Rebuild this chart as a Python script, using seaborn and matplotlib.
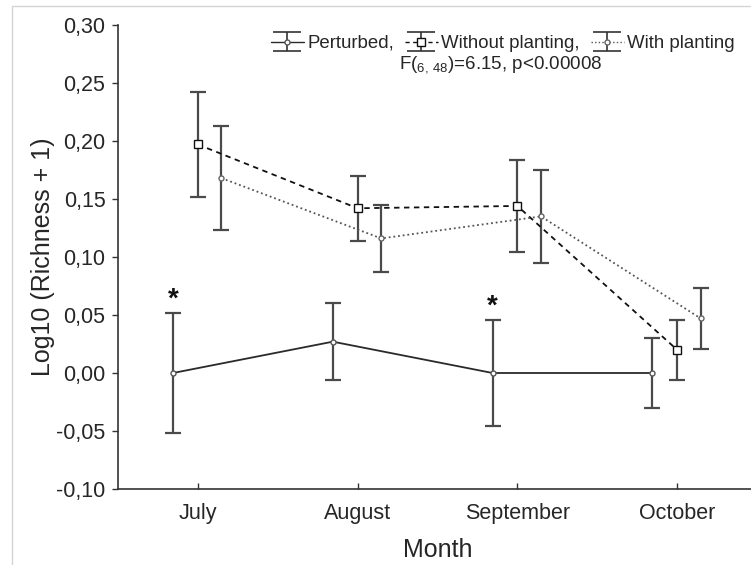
import matplotlib
matplotlib.use("Agg")
import matplotlib.pyplot as plt
import seaborn as sns
import numpy as np
import pandas as pd
from matplotlib.lines import Line2D
from matplotlib.legend_handler import HandlerTuple

months = ["July", "August", "September", "October"]
perturbed = [0.000, 0.027, 0.000, 0.000]
perturbed_err = [0.052, 0.033, 0.046, 0.030]
without_planting = [0.197, 0.142, 0.144, 0.020]
without_err = [0.045, 0.028, 0.040, 0.026]
with_planting = [0.168, 0.116, 0.135, 0.047]
with_err = [0.045, 0.029, 0.040, 0.026]
y_ticks = [-0.10, -0.05, 0.00, 0.05, 0.10, 0.15, 0.20, 0.25, 0.30]
star_months = ["July", "September"]

sns.set_theme(style="ticks")
plt.rcParams["font.family"] = ["Liberation Sans", "DejaVu Sans"]
plt.rcParams["mathtext.fontset"] = "custom"
plt.rcParams["mathtext.rm"] = "Liberation Sans"
plt.rcParams["mathtext.default"] = "regular"

fig = plt.figure(figsize=(7.51, 5.65), dpi=100)
ax = fig.add_axes([0.157, 0.1345, 0.851, 0.8213])

series = [
    ("Perturbed,", perturbed, perturbed_err, -0.155, "-", "o", "#2a2a2a", 3.6, "#555555"),
    ("Without planting,", without_planting, without_err, 0.0, (0, (3, 2.5)), "s", "#111111", 6.0, "#111111"),
    ("With planting", with_planting, with_err, 0.148, (0, (1, 1.6)), "o", "#555555", 3.6, "#666666"),
]

base = np.arange(len(months))
handles = []
labels = []
for name, vals, errs, off, ls, mk, col, ms, mec in series:
    xs = base + off
    df = pd.DataFrame({"x": xs, "y": vals})
    sns.lineplot(data=df, x="x", y="y", ax=ax, color=col, linestyle=ls, linewidth=1.3,
                 marker=mk, markersize=ms, markerfacecolor="white", markeredgecolor=mec,
                 markeredgewidth=1.0, legend=False, zorder=3)
    ax.errorbar(xs, vals, yerr=errs, fmt="none", ecolor="#4a4a4a", elinewidth=1.6,
                capsize=5.8, capthick=1.6, zorder=2)
    # legend proxies (nothing drawn on the axes)
    proxy_err = ax.errorbar([np.nan], [np.nan], yerr=[np.nan], fmt="none", ecolor="#333333",
                            elinewidth=1.2, capsize=10, capthick=1.2)
    proxy = Line2D([], [], color=col, linestyle=ls, linewidth=1.0, marker=mk,
                   markersize=ms, markerfacecolor="white", markeredgecolor=mec, markeredgewidth=1.0)
    handles.append((proxy_err, proxy))
    labels.append(name)

# significance asterisks
for m in star_months:
    i = months.index(m)
    top = perturbed[i] + perturbed_err[i]
    ax.text(i + series[0][3], top, "*", ha="center", va="bottom",
            fontsize=20, fontweight="bold", color="#111111")

ax.set_xlim(-0.5, 3.5)
ax.set_ylim(-0.10, 0.30)
ax.set_xticks(base)
ax.set_xticklabels(months)
ax.set_yticks(y_ticks)
ax.set_yticklabels([f"{v:.2f}".replace(".", ",") for v in y_ticks])
ax.tick_params(axis="y", direction="out", length=4, width=1, labelsize=15.5, color="#333333", pad=5)
ax.tick_params(axis="x", direction="in", length=4, width=1, labelsize=15.5, color="#333333", pad=10)
ax.set_xlabel("Month", fontsize=18, labelpad=10)
ax.set_ylabel("Log10 (Richness + 1)", fontsize=18, labelpad=1)
sns.despine(ax=ax)
for s in ["left", "bottom"]:
    ax.spines[s].set_color("#333333")
    ax.spines[s].set_linewidth(1.2)

leg = ax.legend(handles, labels, ncol=3, loc="upper center",
                bbox_to_anchor=(503 / 751, 1 - 35 / 565), bbox_transform=fig.transFigure,
                frameon=False, fontsize=13.4, handlelength=1.75, handletextpad=0.2,
                columnspacing=0.6, borderaxespad=0, borderpad=0, handleheight=0.6,
                handler_map={tuple: HandlerTuple(ndivide=1)})
fig.text(501 / 751, 1 - 65 / 565, r"F($_{6,\,48}$)=6.15, p<0.00008", ha="center", va="center",
         fontsize=13.5)

# light frame lines
fig.add_artist(Line2D([12 / 751, 12 / 751], [0, 1 - 6 / 565], transform=fig.transFigure,
                      color="#d4d4d4", linewidth=1))
fig.add_artist(Line2D([12 / 751, 1], [1 - 6 / 565, 1 - 6 / 565], transform=fig.transFigure,
                      color="#d4d4d4", linewidth=1))

fig.savefig("out.png", dpi=100)
